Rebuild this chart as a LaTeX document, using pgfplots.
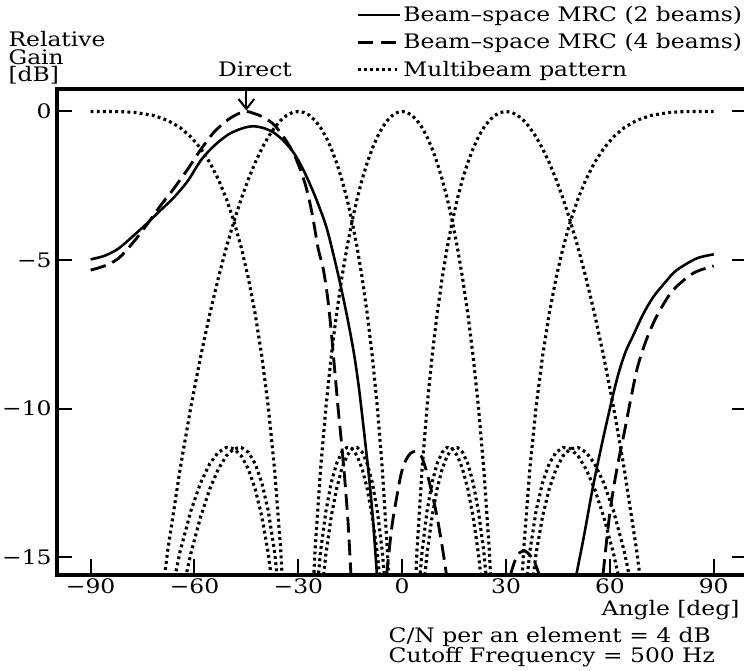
\documentclass[border=0pt]{standalone}
\usepackage{fontspec}
\setmainfont{DejaVu Serif}[FakeStretch=1.17]
\usepackage{pgfplots}
\usepackage{pgfplotstable}
\pgfplotsset{compat=1.18}
\usetikzlibrary{arrows.meta}

% multibeam pattern, 4 beams (columns A..D), angle in deg, gain in dB
\pgfplotstableread{
t       A       B       C       D
-90     -60     -60     -60     0
-84.27  -46     -44     -44     -0.001
-80.93  -34     -31     -30     -0.008
-77.16  -28.15  -25.47  -24.79  -0.034
-71.81  -22.21  -19.86  -18.49  -0.134
-67.67  -18.84  -16.80  -14.735 -0.304
-64.16  -16.549 -14.816 -12.041 -0.543
-61.05  -14.883 -13.448 -9.946  -0.856
-58.21  -13.639 -12.497 -8.244  -1.246
-55.59  -12.711 -11.859 -6.823  -1.717
-53.13  -12.041 -11.475 -5.618  -2.277
-50.81  -11.595 -11.312 -4.586  -2.933
-48.59  -11.353 -11.353 -3.698  -3.698
-46.47  -11.312 -11.595 -2.933  -4.586
-44.43  -11.475 -12.041 -2.277  -5.618
-42.45  -11.859 -12.711 -1.717  -6.823
-40.54  -12.497 -13.639 -1.246  -8.244
-38.68  -13.448 -14.883 -0.856  -9.946
-36.87  -14.816 -16.549 -0.543  -12.041
-35.10  -16.80  -18.84  -0.304  -14.735
-33.37  -19.86  -22.21  -0.134  -18.49
-31.67  -25.47  -28.15  -0.034  -24.79
-30     -60     -60     0       -60
-28.36  -24.79  -28.15  -0.034  -25.47
-26.74  -18.49  -22.21  -0.134  -19.86
-25.15  -14.735 -18.84  -0.304  -16.80
-23.58  -12.041 -16.549 -0.543  -14.816
-22.02  -9.946  -14.883 -0.856  -13.448
-20.49  -8.244  -13.639 -1.246  -12.497
-18.97  -6.823  -12.711 -1.717  -11.859
-17.46  -5.618  -12.041 -2.277  -11.475
-15.96  -4.586  -11.595 -2.933  -11.312
-14.48  -3.698  -11.353 -3.698  -11.353
-13.00  -2.933  -11.312 -4.586  -11.595
-11.54  -2.277  -11.475 -5.618  -12.041
-10.08  -1.717  -11.859 -6.823  -12.711
-8.63   -1.246  -12.497 -8.244  -13.639
-7.18   -0.856  -13.448 -9.946  -14.883
-5.74   -0.543  -14.816 -12.041 -16.549
-4.30   -0.304  -16.80  -14.735 -18.84
-2.87   -0.134  -19.86  -18.49  -22.21
-1.43   -0.034  -25.47  -24.79  -28.15
0       0       -60     -60     -60
1.43    -0.034  -24.79  -25.47  -28.15
2.87    -0.134  -18.49  -19.86  -22.21
4.30    -0.304  -14.735 -16.80  -18.84
5.74    -0.543  -12.041 -14.816 -16.549
7.18    -0.856  -9.946  -13.448 -14.883
8.63    -1.246  -8.244  -12.497 -13.639
10.08   -1.717  -6.823  -11.859 -12.711
11.54   -2.277  -5.618  -11.475 -12.041
13.00   -2.933  -4.586  -11.312 -11.595
14.48   -3.698  -3.698  -11.353 -11.353
15.96   -4.586  -2.933  -11.595 -11.312
17.46   -5.618  -2.277  -12.041 -11.475
18.97   -6.823  -1.717  -12.711 -11.859
20.49   -8.244  -1.246  -13.639 -12.497
22.02   -9.946  -0.856  -14.883 -13.448
23.58   -12.041 -0.543  -16.549 -14.816
25.15   -14.735 -0.304  -18.84  -16.80
26.74   -18.49  -0.134  -22.21  -19.86
28.36   -24.79  -0.034  -28.15  -25.47
30      -60     0       -60     -60
31.67   -25.47  -0.034  -28.15  -24.79
33.37   -19.86  -0.134  -22.21  -18.49
35.10   -16.80  -0.304  -18.84  -14.735
36.87   -14.816 -0.543  -16.549 -12.041
38.68   -13.448 -0.856  -14.883 -9.946
40.54   -12.497 -1.246  -13.639 -8.244
42.45   -11.859 -1.717  -12.711 -6.823
44.43   -11.475 -2.277  -12.041 -5.618
46.47   -11.312 -2.933  -11.595 -4.586
48.59   -11.353 -3.698  -11.353 -3.698
50.81   -11.595 -4.586  -11.312 -2.933
53.13   -12.041 -5.618  -11.475 -2.277
55.59   -12.711 -6.823  -11.859 -1.717
58.21   -13.639 -8.244  -12.497 -1.246
61.05   -14.883 -9.946  -13.448 -0.856
64.16   -16.549 -12.041 -14.816 -0.543
67.67   -18.84  -14.735 -16.80  -0.304
71.81   -22.21  -18.49  -19.86  -0.134
77.16   -28.15  -24.79  -25.47  -0.034
80.93   -34     -30     -31     -0.008
84.27   -46     -44     -44     -0.001
90      -60     -60     -60     0
}\beams

\tikzset{
  mrctwo/.style={black, line width=0.9pt},
  mrcfour/.style={black, line width=1pt, dash pattern=on 5.5pt off 2.5pt},
  mbeam/.style={black, line width=1.1pt, dash pattern=on 1pt off 1.15pt},
}

\begin{document}
\fontsize{7}{8.4}\selectfont
\begin{tikzpicture}[font=\fontsize{7}{8.4}\selectfont]
\useasboundingbox (-19.85pt,-33.6pt) rectangle (240.6pt,201.25pt);
\begin{axis}[
  at={(0,0)}, anchor=south west,
  scale only axis,
  width=241.9pt, height=170.1pt,
  xmin=-99.8, xmax=99.8,
  ymin=-15.6, ymax=0.758,
  xtick={-90,-60,-30,0,30,60,90},
  xticklabels={−90,−60,−30,0,30,60,90},
  ytick={-15,-10,-5,0},
  yticklabels={−15,−10,−5,0},
  xtick pos=bottom,
  tick align=inside,
  major tick length=5.5pt,
  tick style={line width=0.7pt, black},
  axis line style={line width=1.4pt},
  xticklabel style={anchor=base, inner sep=0pt, yshift=-6.6pt},
  yticklabel style={anchor=east, inner sep=0pt, xshift=-1.6pt},
  clip mode=individual,
]
\addplot[mbeam] table[x=t, y=A] {\beams};
\addplot[mbeam] table[x=t, y=B] {\beams};
\addplot[mbeam] table[x=t, y=C] {\beams};
\addplot[mbeam] table[x=t, y=D] {\beams};

% beam-space MRC, 2 beams
\addplot[mrctwo, smooth] coordinates {
  (-90,-4.98) (-86,-4.86) (-82,-4.62) (-78,-4.22) (-74,-3.8) (-70,-3.35)
  (-66,-2.9) (-62,-2.35) (-58,-1.62) (-54,-1.12) (-50,-0.76) (-46,-0.56)
  (-43,-0.5) (-40,-0.56) (-37,-0.72) (-34,-1.02) (-31,-1.45) (-28,-2.1)
  (-25,-2.9) (-22,-3.85) (-20,-4.75) (-18,-5.75) (-16,-6.85) (-14,-8.1)
  (-12.5,-9.3) (-11,-10.8) (-9.5,-12.4) (-8.4,-13.8) (-7.3,-15.6)
};
\addplot[mrctwo, smooth] coordinates {
  (50.3,-15.6) (52.5,-14.3) (55,-12.7) (57.5,-11.3) (60,-10.0) (62.3,-8.9)
  (64.5,-8.1) (66.7,-7.55) (69.5,-6.85) (72.5,-6.25) (76,-5.75) (79.2,-5.35)
  (85,-4.95) (90,-4.81)
};

% beam-space MRC, 4 beams
\addplot[mrcfour, smooth] coordinates {
  (-90,-5.34) (-86,-5.2) (-82,-4.95) (-78,-4.45) (-74,-3.85) (-70,-3.2)
  (-66,-2.6) (-62,-1.95) (-58,-1.25) (-54,-0.65) (-50,-0.25) (-47,-0.06)
  (-45,0) (-43,-0.06) (-40,-0.2) (-37,-0.45) (-34,-0.9) (-31,-1.5)
  (-28,-2.45) (-26,-3.45) (-24.3,-4.6) (-22.8,-5.3) (-21.5,-6.3) (-20.5,-7.4)
  (-19.5,-8.7) (-18.5,-10.0) (-17.5,-11.2) (-16.5,-12.5) (-15.6,-13.9) (-14.8,-15.6)
};
\addplot[mrcfour, smooth] coordinates {
  (-4.5,-15.6) (-3,-14.0) (-1.6,-13.0) (-0.3,-12.2) (1,-11.75) (2.5,-11.5)
  (4,-11.45) (5.5,-11.6) (7,-12.1) (8.5,-12.8) (10,-13.6) (11.5,-14.6) (12.8,-15.6)
};
\addplot[mrcfour, smooth] coordinates {
  (31.3,-15.6) (32.5,-15.15) (34,-14.85) (35.5,-14.8) (37,-14.95) (38.5,-15.25) (39.6,-15.6)
};
\addplot[mrcfour, smooth] coordinates {
  (58,-15.6) (60,-13.5) (62,-12.05) (64,-10.9) (66,-9.7) (68,-8.6)
  (70.5,-7.7) (73.5,-6.9) (78,-6.05) (84,-5.45) (90,-5.2)
};

\draw[line width=0.7pt, -{Straight Barb[length=3.5pt,width=5.5pt]}]
  (axis cs:-45,0.758) -- (axis cs:-45,0.03);
\end{axis}

% legend
\draw[mrctwo] (105.4pt,196pt) -- (120.1pt,196pt);
\node[anchor=base west, inner sep=0pt] at (121.2pt,193.55pt) {Beam–space MRC (2 beams)};
\draw[mrcfour] (105.4pt,186.5pt) -- (120.1pt,186.5pt);
\node[anchor=base west, inner sep=0pt] at (121.2pt,184.1pt) {Beam–space MRC (4 beams)};
\draw[mbeam] (105.4pt,176.8pt) -- (120.1pt,176.8pt);
\node[anchor=base west, inner sep=0pt] at (121.2pt,174.5pt) {Multibeam pattern};

% y label and annotations
\node[anchor=base west, inner sep=0pt] at (-17.05pt,184.9pt) {Relative};
\node[anchor=base west, inner sep=0pt] at (-17.05pt,178.8pt) {Gain};
\node[anchor=base west, inner sep=0pt] at (-17.05pt,172.7pt) {[dB]};
\node[anchor=base, inner sep=0pt] at (69.4pt,174.3pt) {Direct};

\node[anchor=base east, inner sep=0pt] at (239.2pt,-14.2pt) {Angle [deg]};
\node[anchor=base west, inner sep=0pt] at (116pt,-23.6pt) {C/N per an element = 4 dB};
\node[anchor=base west, inner sep=0pt] at (116pt,-30.6pt) {Cutoff Frequency = 500 Hz};
\end{tikzpicture}
\end{document}
